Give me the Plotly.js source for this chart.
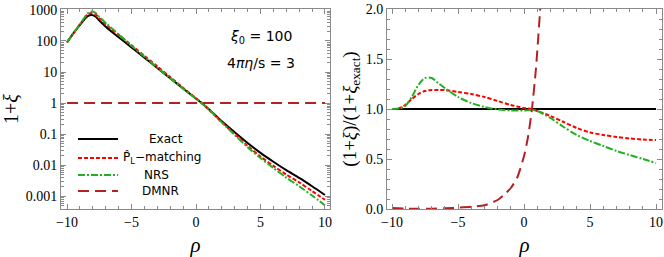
<!DOCTYPE html>
<html><head><meta charset="utf-8">
<script src="https://cdn.plot.ly/plotly-3.0.1.min.js"></script>
<style>body{margin:0;background:#fff}#c{width:664px;height:257px}</style>
</head><body><div id="c"></div>
<script>
// ---- Left panel: 1+xi vs rho ----
const rhoL = [-10,-9.5,-9,-8.7,-8.4,-8.1,-7.8,-7.5,-7,-6,-5,-4,-3,-2,-1,0,0.44,1,2,3,4,5,6,7,8,9,10];
const exactL = [90,178,330,470,630,690,615,455,290,132,62,29,13.5,6.3,2.95,1.4,1.0,0.63,0.26,0.115,0.052,0.025,0.0129,0.0069,0.0039,0.0021,0.0011];
const plmL   = [90,180,345,510,720,800,730,540,345,157,73,33,15.3,6.9,3.1,1.42,1.0,0.61,0.24,0.1,0.042,0.019,0.0095,0.005,0.0028,0.00147,0.00077];
const nrsL   = [90,180,345,530,780,890,810,600,380,165,70,31,13.8,6.4,2.92,1.38,0.99,0.62,0.24,0.094,0.038,0.017,0.0081,0.004,0.0021,0.00106,0.00051];
const rhoDM = [-10,10];
const dmnrL = [1,1];

// ---- Right panel: ratio to exact ----
const rhoR = [-10,-9.5,-9,-8.5,-8,-7.5,-7,-6.5,-6,-5,-4,-3,-2,-1,0,0.6,1,2,3,4,5,6,7,8,9,10];
const exactR = rhoR.map(() => 1);
const plmR = [1.0,1.005,1.04,1.1,1.15,1.18,1.19,1.19,1.19,1.17,1.15,1.12,1.08,1.04,1.01,1.0,0.98,0.93,0.87,0.81,0.765,0.74,0.72,0.705,0.695,0.69];
const nrsR = [1.0,1.005,1.03,1.12,1.24,1.31,1.31,1.26,1.21,1.12,1.06,1.02,0.995,0.985,0.985,0.99,0.98,0.91,0.82,0.74,0.68,0.63,0.58,0.54,0.5,0.46];
const rhoDMR = [-10,-9,-8,-7,-6,-5,-4,-3,-2,-1.5,-1,-0.5,0,0.3,0.6,0.9,1.2,1.3];
const dmnrR = [0.01,0.004,0.0015,0.003,0.007,0.013,0.022,0.037,0.09,0.145,0.21,0.32,0.53,0.72,1.0,1.4,1.95,2.15];

// ---- tick labels ----
const logTickVals = [0.001,0.01,0.1,1,10,100,1000];
const logTickText = ["0.001","0.01","0.1","1","10","100","1000"];
const legendNames = ["Exact","P\u0302<sub>L</sub>\u2212matching","NRS","DMNR"];

const cBlack='#000000', cRed='#ff0000', cGreen='#22b022', cDark='#b22222';
const stExact={color:cBlack,width:2}, stPlm={color:cRed,width:2,dash:'4px,2px'},
      stNrs={color:cGreen,width:2,dash:'7px,2px,2px,2px'}, stDm={color:cDark,width:2,dash:'11px,6px'};
const sp=s=>Object.assign({shape:'spline',smoothing:0.8},s);

const traces = [
  {x:rhoL,y:exactL,mode:'lines',line:sp(stExact),xaxis:'x',yaxis:'y'},
  {x:rhoL,y:plmL,mode:'lines',line:sp(stPlm),xaxis:'x',yaxis:'y'},
  {x:rhoL,y:nrsL,mode:'lines',line:sp(stNrs),xaxis:'x',yaxis:'y'},
  {x:rhoDM,y:dmnrL,mode:'lines',line:stDm,xaxis:'x',yaxis:'y'},
  {x:rhoR,y:exactR,mode:'lines',line:stExact,xaxis:'x2',yaxis:'y2'},
  {x:rhoR,y:plmR,mode:'lines',line:sp(stPlm),xaxis:'x2',yaxis:'y2'},
  {x:rhoR,y:nrsR,mode:'lines',line:sp(stNrs),xaxis:'x2',yaxis:'y2'},
  {x:rhoDMR,y:dmnrR,mode:'lines',line:Object.assign({shape:'spline',smoothing:0.6},stDm),xaxis:'x2',yaxis:'y2'}
];

const W=664,H=257,ML=61,MR=2,MT=9,MB=48;
const PW=W-ML-MR, PH=H-MT-MB;
const px=v=>(v-ML)/PW, py=v=>(MT+PH-v)/PH;

const serif="'Liberation Serif', 'Times New Roman', Times, serif";
const sans="'DejaVu Sans', sans-serif";
const frame='#8a8a8a';
const tickFont={family:serif,size:14,color:'#000'};
const common={showgrid:false,zeroline:false,showline:true,linecolor:frame,linewidth:1,mirror:'ticks',
  ticks:'inside',ticklen:5,tickcolor:frame,tickfont:tickFont};

const xcommon=Object.assign({},common,{tickvals:[-10,-5,0,5,10],minor:{ticks:'inside',ticklen:3,tickcolor:frame,dtick:1},
  title:{text:'<i>ρ</i>',font:{family:serif,size:21,color:'#000'},standoff:8}});

const layout={
  width:W,height:H,margin:{l:ML,r:MR,t:MT,b:MB},paper_bgcolor:'#fff',plot_bgcolor:'#fff',showlegend:false,
  xaxis:Object.assign({},xcommon,{domain:[0,px(330)],range:[-10.47,10.39],anchor:'y'}),
  xaxis2:Object.assign({},xcommon,{domain:[px(387),1],range:[-10.38,10.45],anchor:'y2'}),
  yaxis:Object.assign({},common,{type:'log',range:[-3.41,3.03],tickvals:logTickVals,ticktext:logTickText,anchor:'x',
    minor:{ticks:'inside',ticklen:3,tickcolor:frame,dtick:'D1'},
    title:{text:'1+<i>ξ</i>',font:{family:serif,size:20,color:'#000'},standoff:4}}),
  yaxis2:Object.assign({},common,{range:[0,2],tickvals:[0,0.5,1,1.5,2],tickformat:'.1f',anchor:'x2',
    minor:{ticks:'inside',ticklen:3,tickcolor:frame,dtick:0.1},
    title:{text:'(1+<i>ξ</i>)/(1+<i>ξ</i><sub>exact</sub>)',font:{family:serif,size:19,color:'#000'},standoff:4}}),
  shapes:[], annotations:[]
};

// legend (manual, centered text as in reference)
const legY=[139,158,175,191];
const legTextX=[166,162,156,160];
const legStyles=[stExact,stPlm,stNrs,stDm];
legendNames.forEach((n,i)=>{
  layout.shapes.push({type:'line',xref:'paper',yref:'paper',x0:px(78),x1:px(118),y0:py(legY[i]),y1:py(legY[i]),line:legStyles[i]});
  layout.annotations.push({xref:'paper',yref:'paper',x:px(legTextX[i]),y:py(legY[i]),text:n,showarrow:false,
    xanchor:'center',yanchor:'middle',font:{family:sans,size:12,color:'#000'}});
});
layout.annotations.push({xref:'paper',yref:'paper',x:px(261),y:py(37),text:'<i>ξ</i><sub>0</sub> = 100',showarrow:false,
  xanchor:'center',yanchor:'middle',font:{family:sans,size:14,color:'#000'}});
layout.annotations.push({xref:'paper',yref:'paper',x:px(261),y:py(63),text:'4<i>πη</i>/s = 3',showarrow:false,
  xanchor:'center',yanchor:'middle',font:{family:sans,size:14,color:'#000'}});

Plotly.newPlot('c',traces,layout,{staticPlot:true,displayModeBar:false});
</script></body></html>
